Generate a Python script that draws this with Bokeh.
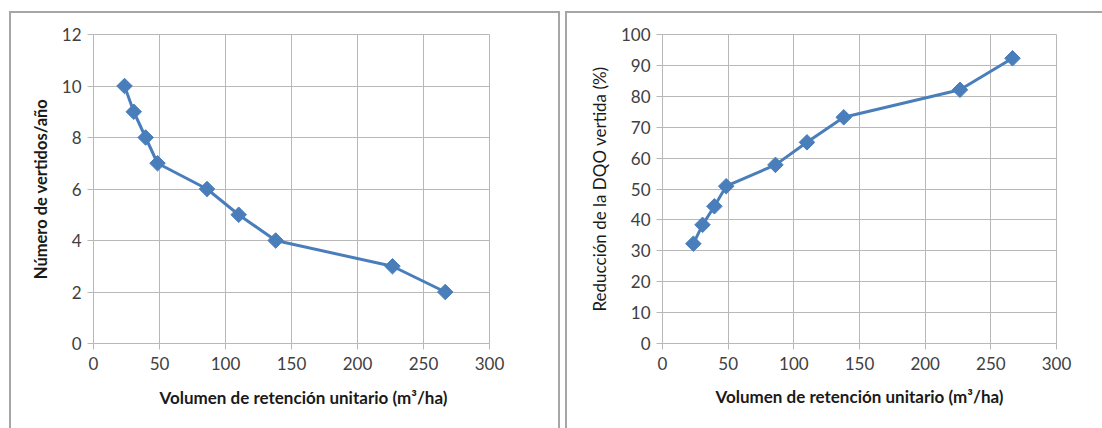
import numpy as np
from bokeh.plotting import figure
from bokeh.layouts import row
from bokeh.models import FixedTicker, Range1d, Title
from bokeh.embed import file_html
from bokeh.resources import INLINE

volumen = [23.5, 30.5, 39.5, 48.5, 86, 110, 138, 226.5, 266.5]
vertidos = [10, 9, 8, 7, 6, 5, 4, 3, 2]
reduccion = [32.3, 38.4, 44.4, 50.9, 57.8, 65.1, 73.2, 82.1, 92.3]

x_ticks = [0, 50, 100, 150, 200, 250, 300]
y1_ticks = [0, 2, 4, 6, 8, 10, 12]
y2_ticks = [0, 10, 20, 30, 40, 50, 60, 70, 80, 90, 100]

x_label = "Volumen de retención unitario (m³/ha)"
y1_label = "Número de vertidos/año"
y2_label = "Reducción de la DQO vertida (%)"

BLUE = "#4a7ebb"
GRID = "#b8b8b8"
FONT = "Lato"
BORDER = "2px solid #a6a6a6"


def make(y, yticks, ymax, ylabel, ylabel_style, ylabel_size,
         ml, mr, mt, mb, fw, fh, margin, styles, xtitle_offset=None):
    p = figure(width=ml + fw + mr, height=mt + fh + mb, output_backend="svg",
               toolbar_location=None, x_range=Range1d(0, 300),
               y_range=Range1d(0, ymax), min_border_left=ml,
               min_border_right=mr, min_border_top=mt,
               min_border_bottom=mb, margin=margin, styles=styles)
    p.outline_line_color = GRID
    p.outline_line_width = 1
    for ax in (p.xaxis, p.yaxis):
        ax.axis_line_color = GRID
        ax.major_tick_line_color = GRID
        ax.major_tick_out = 6
        ax.major_tick_in = 0
        ax.minor_tick_line_color = None
        ax.major_label_text_font = FONT
        ax.major_label_text_font_size = "17px"
        ax.major_label_text_color = "#404040"
        ax.axis_label_text_font = FONT
        ax.axis_label_text_color = "#1a1a1a"
    p.xaxis.ticker = FixedTicker(ticks=x_ticks)
    p.yaxis.ticker = FixedTicker(ticks=yticks)
    if xtitle_offset is None:
        p.xaxis.axis_label = x_label
        p.xaxis.axis_label_text_font_size = "17px"
        p.xaxis.axis_label_text_font_style = "bold"
        p.xaxis.axis_label_standoff = 13
    else:
        # title centred on the chart area rather than on the plot frame
        p.add_layout(Title(text=x_label, align="left", offset=xtitle_offset,
                           standoff=24, text_font=FONT, text_font_size="17px",
                           text_font_style="bold", text_color="#1a1a1a"),
                     "below")
    p.xaxis.major_label_standoff = 7
    p.yaxis.axis_label = ylabel
    p.yaxis.axis_label_text_font_size = ylabel_size
    p.yaxis.axis_label_text_font_style = ylabel_style
    p.yaxis.axis_label_standoff = 8
    p.yaxis.major_label_standoff = 6
    p.xgrid.grid_line_color = GRID
    p.ygrid.grid_line_color = GRID
    p.xgrid.ticker = FixedTicker(ticks=x_ticks)
    p.ygrid.ticker = FixedTicker(ticks=yticks)
    p.line(volumen, y, line_color=BLUE, line_width=3)
    p.scatter(volumen, y, marker="square", angle=np.pi / 4, size=11,
              fill_color=BLUE, line_color=BLUE)
    return p


p1 = make(vertidos, y1_ticks, 12, y1_label, "bold", "16.5px",
          82, 73, 20, 86, 396, 311, (11, 0, 0, 9),
          {"border-top": BORDER, "border-left": BORDER,
           "border-right": BORDER}, xtitle_offset=66)
p2 = make(reduccion, y2_ticks, 100, y2_label, "normal", "17px",
          95, 48, 21, 87, 394, 309, (11, 0, 0, 5),
          {"border-top": BORDER, "border-left": BORDER})

layout = row(p1, p2)
open("out.html", "w").write(file_html(layout, INLINE))
